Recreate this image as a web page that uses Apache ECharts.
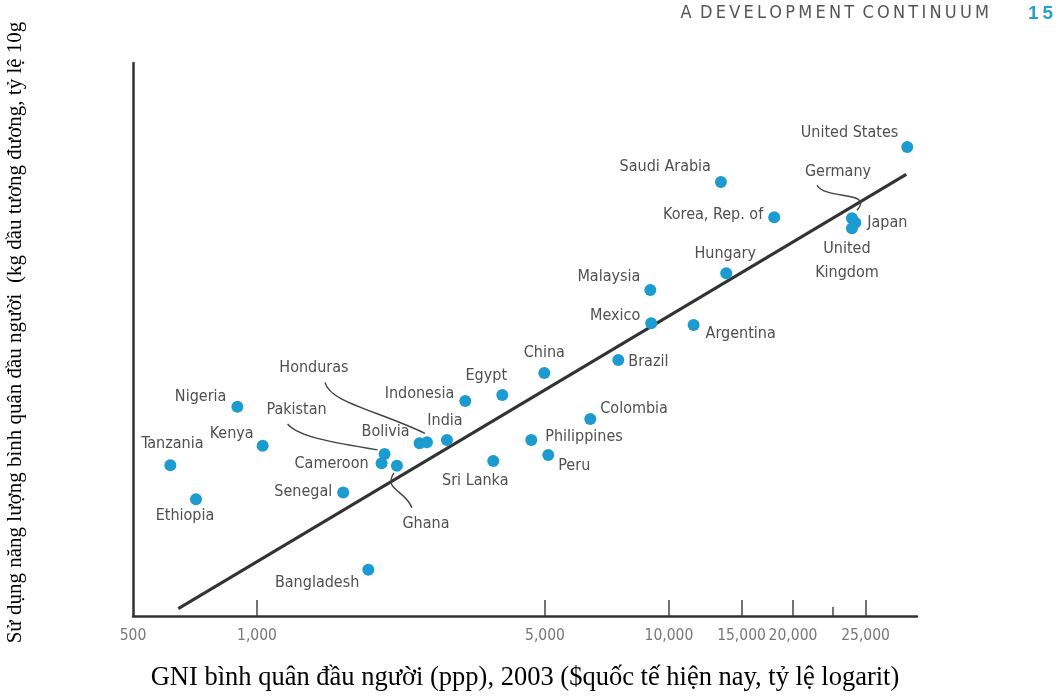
<!DOCTYPE html>
<html>
<head>
<meta charset="utf-8">
<script src="https://cdn.jsdelivr.net/npm/echarts@6/dist/echarts.min.js"></script>
<style>
html, body { margin: 0; padding: 0; background: #fff; }
#chart { width: 1057px; height: 698px; }
</style>
</head>
<body>
<div id="chart"></div>
<script>
// GNI per capita (ppp, 2003) vs energy use per capita (kg oil equivalent), both log
const countries = ['Tanzania', 'Ethiopia', 'Nigeria', 'Kenya', 'Senegal', 'Bangladesh',
  'Pakistan', 'Cameroon', 'Ghana', 'Bolivia', 'Honduras', 'India', 'Indonesia', 'Egypt',
  'Sri Lanka', 'China', 'Philippines', 'Peru', 'Colombia', 'Brazil', 'Mexico', 'Malaysia',
  'Argentina', 'Hungary', 'Saudi Arabia', 'Korea, Rep. of', 'Germany', 'Japan',
  'United Kingdom', 'United States'];
const gni = [616, 711, 896, 1032, 1619, 1863,
  2040, 2006, 2186, 2481, 2585, 2891, 3203, 3939,
  3745, 4981, 4632, 5093, 6441, 7534, 9055, 9010,
  11475, 13770, 13370, 18010, 27810, 28330,
  27810, 37880];
const energy = [401, 293, 687, 480, 312, 153,
  445, 408, 399, 491, 495, 506, 724, 766,
  417, 938, 506, 441, 614, 1057, 1482, 2014,
  1459, 2349, 5445, 3934, 3898, 3743,
  3554, 7516];

// regression line end points
const fitGni = [644, 37670];
const fitEnergy = [107, 5845];

// x axis ticks as printed
const tickValues = [500, 1000, 5000, 10000, 15000, 20000, 30000];
const tickLabels = ['500', '1,000', '5,000', '10,000', '15,000', '20,000', '25,000'];
const shortTicks = [25000];

const condensed = "'Liberation Sans Narrow','DejaVu Sans Condensed',sans-serif";
const serif = "'Liberation Serif','Times New Roman',serif";

// label offset from point centre: [dx, dy, align]
const labelPos = {
  'United States': [-9, -14, 'right'],
  'Saudi Arabia': [-10, -15, 'right'],
  'Korea, Rep. of': [-11, -2, 'right'],
  'Germany': [-14, -46, 'center'],
  'Japan': [12, 0, 'left'],
  'United Kingdom': [-5, 32, 'center'],
  'Hungary': [-1, -19, 'center'],
  'Malaysia': [-10, -13, 'right'],
  'Mexico': [-11, -7, 'right'],
  'Argentina': [12, 9, 'left'],
  'China': [0, -20, 'center'],
  'Brazil': [10, 2, 'left'],
  'Egypt': [-16, -19, 'center'],
  'Indonesia': [-11, -7, 'right'],
  'Colombia': [10, -10, 'left'],
  'India': [-2, -19, 'center'],
  'Philippines': [14, -3, 'left'],
  'Peru': [10, 11, 'left'],
  'Sri Lanka': [-18, 20, 'center'],
  'Nigeria': [-11, -10, 'right'],
  'Kenya': [-9, -12, 'right'],
  'Tanzania': [2, -21, 'center'],
  'Ethiopia': [-11, 17, 'center'],
  'Senegal': [-11, -1, 'right'],
  'Bangladesh': [-9, 13, 'right'],
  'Bolivia': [-10, -11, 'right'],
  'Cameroon': [-13, 0, 'right'],
  'Pakistan': [-88, -44, 'center'],
  'Honduras': [-113, -75, 'center'],
  'Ghana': [29, 58, 'center']
};

// curved leader lines, relative to the point: start, control 1, control 2, end
const leaderCurves = {
  'Honduras': [[-102, -60], [-97, -40], [-50, -32], [-2, -9]],
  'Pakistan': [[-97, -30], [-86, -17], [-50, -11], [-7, -4]],
  'Ghana': [[15, 42], [8, 24], [-14, 24], [-3, 7]],
  'Germany': [[-35, -33], [-25, -18], [22, -28], [5, -8]]
};

const SYM = 12;
const points = countries.map((name, i) => {
  const p = labelPos[name];
  return {
    name: name,
    value: [gni[i], energy[i]],
    label: {
      position: [SYM / 2 + p[0], SYM / 2 + p[1]],
      align: p[2],
      formatter: name === 'United Kingdom' ? 'United\nKingdom' : name
    }
  };
});

const header = [
  {
    id: 'head',
    type: 'text',
    right: 68,
    top: 4,
    style: {
      text: 'A\u2009 D\u2009E\u2009V\u2009E\u2009L\u2009O\u2009P\u2009M\u2009E\u2009N\u2009T \u2009C\u2009O\u2009N\u2009T\u2009I\u2009N\u2009U\u2009U\u2009M',
      fontFamily: condensed,
      fontSize: 18,
      fill: '#555'
    }
  },
  {
    id: 'page',
    type: 'text',
    right: 4,
    top: 4,
    style: {
      text: '1\u20095',
      fontFamily: "'Liberation Sans','DejaVu Sans',sans-serif",
      fontWeight: 'bold',
      fontSize: 19,
      fill: '#2a9fcb'
    }
  }
];

const chart = echarts.init(document.getElementById('chart'));
chart.setOption({
  backgroundColor: '#fff',
  animation: false,
  grid: { left: 133, right: 140, top: 63, bottom: 82, outerBoundsMode: 'none', containLabel: false },
  xAxis: [
    {
      type: 'log',
      min: 500,
      max: 40000,
      name: 'GNI bình quân đầu người (ppp), 2003 ($quốc tế hiện nay, tỷ lệ logarit)',
      nameLocation: 'middle',
      nameGap: 49,
      nameTextStyle: { fontFamily: serif, fontSize: 26.5, color: '#000' },
      axisLine: { lineStyle: { color: '#333', width: 2.5 } },
      axisTick: {
        show: true, inside: true, length: 16,
        customValues: tickValues.slice(1),
        lineStyle: { color: '#444', width: 1.5 }
      },
      minorTick: { show: false },
      splitLine: { show: false },
      axisLabel: {
        customValues: tickValues,
        margin: 12,
        fontFamily: condensed,
        fontSize: 15.5,
        color: '#777',
        hideOverlap: false,
        formatter: v => {
          const k = tickValues.findIndex(t => Math.abs(t - v) / t < 1e-6);
          return k >= 0 ? tickLabels[k] : '';
        }
      }
    },
    {
      type: 'log',
      min: 500,
      max: 40000,
      position: 'bottom',
      axisLine: { show: false },
      axisTick: {
        show: true, inside: true, length: 9,
        customValues: shortTicks,
        lineStyle: { color: '#444', width: 1.5 }
      },
      axisLabel: { show: false },
      splitLine: { show: false }
    }
  ],
  yAxis: {
    type: 'log',
    min: 100,
    max: 16300,
    name: 'Sử dụng năng lượng bình quân đầu người  (kg dầu tương đương, tỷ lệ 10g',
    nameLocation: 'middle',
    nameRotate: 90,
    nameGap: 107,
    nameTextStyle: { fontFamily: serif, fontSize: 21, color: '#000', padding: [0, 0, 0, 14] },
    axisLine: { show: true, lineStyle: { color: '#333', width: 2.5 } },
    axisTick: { show: false },
    axisLabel: { show: false },
    splitLine: { show: false },
    minorTick: { show: false }
  },
  graphic: header,
  series: [
    {
      type: 'line',
      data: fitGni.map((g, i) => [g, fitEnergy[i]]),
      symbol: 'none',
      lineStyle: { color: '#333', width: 3 },
      z: 2,
      silent: true
    },
    {
      type: 'scatter',
      data: points,
      symbolSize: SYM,
      itemStyle: { color: '#1b9bd0', opacity: 1 },
      label: {
        show: true,
        verticalAlign: 'middle',
        fontFamily: condensed,
        fontSize: 16,
        lineHeight: 24,
        color: '#4f4f4f'
      },
      z: 3
    }
  ]
});

// leader lines anchored on the plotted points
const curves = Object.keys(leaderCurves).map(name => {
  const i = countries.indexOf(name);
  const p = chart.convertToPixel({ seriesIndex: 1 }, [gni[i], energy[i]]);
  const c = leaderCurves[name];
  return {
    id: 'leader-' + name,
    type: 'bezierCurve',
    silent: true,
    z: 100,
    shape: {
      x1: p[0] + c[0][0], y1: p[1] + c[0][1],
      cpx1: p[0] + c[1][0], cpy1: p[1] + c[1][1],
      cpx2: p[0] + c[2][0], cpy2: p[1] + c[2][1],
      x2: p[0] + c[3][0], y2: p[1] + c[3][1]
    },
    style: { stroke: '#444', lineWidth: 1.4, fill: null }
  };
});
chart.setOption({ graphic: header.concat(curves) });
</script>
</body>
</html>
